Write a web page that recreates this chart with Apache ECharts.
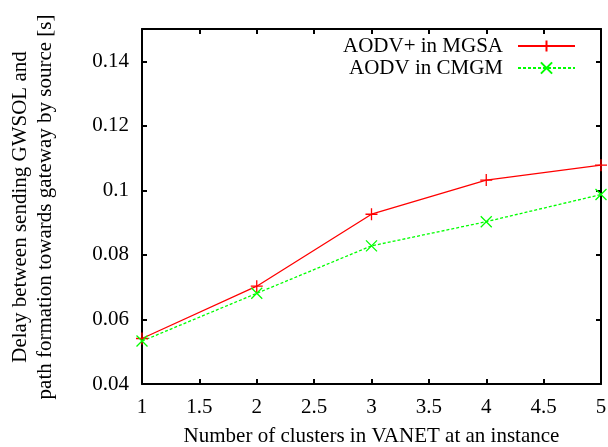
<!DOCTYPE html>
<html><head><meta charset="utf-8">
<script src="https://cdn.jsdelivr.net/npm/echarts@6/dist/echarts.min.js"></script>
<style>html,body{margin:0;padding:0;background:#fff}#c{width:608px;height:447px}</style>
</head><body><div id="c"></div>
<script>
const clusters = [1, 2, 3, 4, 5];
const aodvPlusMGSA = [0.0541, 0.0703, 0.0926, 0.1032, 0.1078];
const aodvCMGM = [0.0533, 0.0681, 0.0828, 0.0903, 0.0987];
const seriesNames = ['AODV+ in MGSA', 'AODV in CMGM'];
const xTitle = 'Number of clusters in VANET at an instance';
const yTitleLines = ['Delay between sending GWSOL and', 'path formation towards gateway by source [s]'];

const FONT = "'Liberation Serif', 'Times New Roman', serif";
const chart = echarts.init(document.getElementById('c'), null, {renderer: 'canvas'});
const plus = 'path://M0,5L10,5M5,0L5,10';
const cross = 'path://M0,0L10,10M10,0L0,10';
const axisCommon = {
  axisLine: {show: true, onZero: false, lineStyle: {color: '#000', width: 2}},
  axisTick: {show: true, inside: true, length: 5, lineStyle: {color: '#000', width: 2}},
  splitLine: {show: false}
};
chart.setOption({
  animation: false,
  backgroundColor: '#fff',
  textStyle: {fontFamily: FONT},
  grid: {left: 142, right: 7, top: 29, bottom: 63, containLabel: false, outerBoundsMode: 'none'},
  legend: {
    orient: 'vertical', right: 27, top: 30, align: 'right', itemGap: 0,
    itemWidth: 57, itemHeight: 14,
    textStyle: {fontFamily: FONT, fontSize: 21, color: '#000', lineHeight: 22, padding: [0, 10, 0, 0]},
    data: seriesNames
  },
  xAxis: [
    Object.assign({type: 'value', min: 1, max: 5, interval: 0.5, position: 'bottom',
      name: xTitle, nameLocation: 'middle', nameGap: 42,
      nameTextStyle: {fontFamily: FONT, fontSize: 21, color: '#000'},
      axisLabel: {fontFamily: FONT, fontSize: 21, color: '#000', margin: 13}}, axisCommon),
    Object.assign({type: 'value', min: 1, max: 5, interval: 0.5, position: 'top',
      axisLabel: {show: false}}, axisCommon)
  ],
  yAxis: [
    Object.assign({type: 'value', min: 0.04, max: 0.15, interval: 0.02, position: 'left',
      axisLabel: {fontFamily: FONT, fontSize: 21, color: '#000', margin: 13, showMaxLabel: false}}, axisCommon),
    Object.assign({type: 'value', min: 0.04, max: 0.15, interval: 0.02, position: 'right',
      axisLabel: {show: false}}, axisCommon)
  ],
  graphic: [{
    type: 'text', x: 33, y: 207, rotation: Math.PI / 2,
    style: {text: yTitleLines.join('\n'), fontFamily: FONT, fontSize: 21, fill: '#000',
      align: 'center', verticalAlign: 'middle', lineHeight: 25}
  }],
  series: [
    {name: seriesNames[0], type: 'line', data: clusters.map((c, i) => [c, aodvPlusMGSA[i]]),
      symbol: plus, symbolSize: 12, showAllSymbol: true,
      lineStyle: {color: '#ff0000', width: 1.3},
      itemStyle: {color: '#ff0000', borderColor: '#ff0000', borderWidth: 1.3}},
    {name: seriesNames[1], type: 'line', data: clusters.map((c, i) => [c, aodvCMGM[i]]),
      symbol: cross, symbolSize: 11, showAllSymbol: true,
      lineStyle: {color: '#00ff00', width: 1.3, type: [3, 2]},
      itemStyle: {color: '#00ff00', borderColor: '#00ff00', borderWidth: 1.3}}
  ]
});
</script></body></html>
